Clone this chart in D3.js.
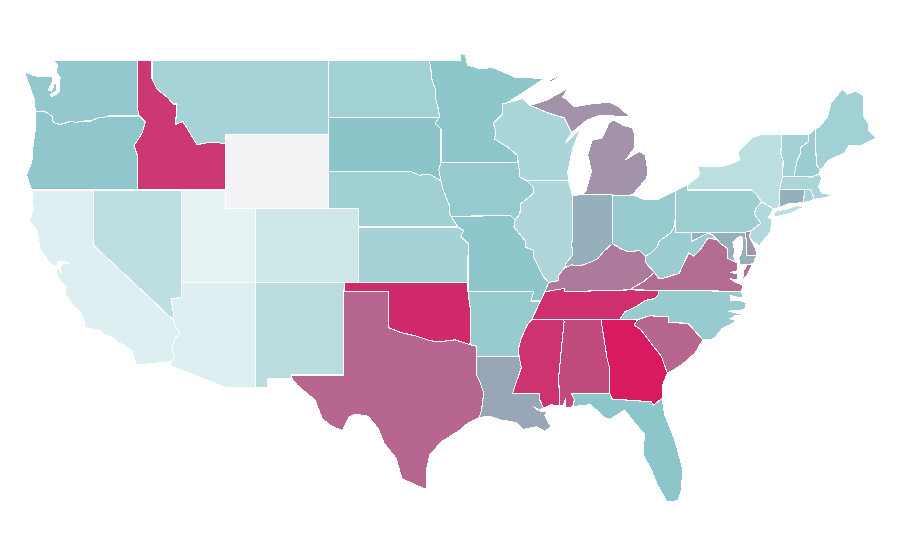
<!DOCTYPE html>
<html>
<head>
<meta charset="utf-8">
<title>US states choropleth</title>
<script src="https://cdnjs.cloudflare.com/ajax/libs/d3/7.8.5/d3.min.js"></script>
<style>
  body { margin: 0; background: #fff; }
  .state { stroke: #fff; stroke-width: 1.1; shape-rendering: crispEdges; stroke-linejoin: round; }
</style>
</head>
<body>
<svg id="map" width="900" height="560"></svg>
<script>
var stateNames  = ["WA","OR","ID","MT","WY","CA","NV","UT","CO","AZ","NM","ND","SD","NE","KS","OK","TX","MN","IA","MO","AR","LA","WI","IL","IN","MI","OH","KY","TN","MS","AL","GA","FL","SC","NC","VA","WV","PA","NY","VT","NH","ME","MA","CT","RI","NJ","DE","MD"];
var stateValues = [46,48,91.5,37,0,11,25.5,7,18,10.5,28,39,50,40,37.5,95.5,78,48.5,45,49,44,59,35,33,56.5,65,44,72,94,93,86,100,49.5,78,44,76,43,42,27,37.5,43,39,35,56.5,37.5,32,64,56.5];

// colour stops
var colorDomain = [0, 7, 50, 100];
var colorRange  = ["#f3f3f5", "#e5f3f4", "#8bc5ca", "#d81b60"];

// shared borders, lon/lat
var snake = [[-117.04,46.42],[-116.92,46],[-116.5,45.7],[-116.7,45.1],[-117.27,44.4],[-117.03,43.85],[-117.03,42]];
var columbia = [[-116.92,46],[-118.98,46],[-119.3,45.93],[-119.6,45.92],[-120.2,45.73],[-120.65,45.73],[-121.2,45.65],[-121.55,45.72],[-122,45.6],[-122.3,45.55],[-122.75,45.65],[-122.8,45.95],[-123.15,46.18],[-123.45,46.27],[-123.95,46.25]];
var bitterroot = [[-116.05,49],[-116.05,48],[-115.7,47.45],[-115,47],[-114.6,46.65],[-114.35,46.65],[-114.45,45.55],[-113.95,45.7],[-113.45,45.05],[-113,44.45],[-112.3,44.55],[-111.5,44.55],[-111.05,44.48]];
var redRiverN = [[-97.23,49],[-97.13,48.5],[-97.05,47.9],[-96.85,47.5],[-96.8,46.9],[-96.6,46.3],[-96.56,45.94]];
var mnSd = [[-96.56,45.94],[-96.85,45.6],[-96.45,45.3],[-96.45,43.5]];
var iaSd = [[-96.45,43.5],[-96.6,43.1],[-96.45,42.49]];
var neSd = [[-96.45,42.49],[-97.2,42.85],[-97.9,42.8],[-98.5,43]];
var iaNe = [[-96.45,42.49],[-96.3,42],[-96.1,41.6],[-95.9,41.2],[-95.85,40.7],[-95.77,40.58]];
var neMo = [[-95.77,40.58],[-95.31,40]];
var ksMo = [[-95.31,40],[-94.9,39.8],[-95.1,39.5],[-94.61,39.1],[-94.62,37],[-94.62,36.5]];
var okAr = [[-94.62,36.5],[-94.43,35.4],[-94.48,33.64]];
var redRiverS = [[-94.48,33.64],[-95.5,33.9],[-96.5,33.8],[-97.2,33.85],[-98.1,34.1],[-99.2,34.3],[-100,34.56]];
var azCa = [[-114.63,35],[-114.5,34.7],[-114.15,34.27],[-114.5,33.95],[-114.7,33.4],[-114.5,33],[-114.72,32.72]];
var azNv = [[-114.05,36.2],[-114.75,36.1],[-114.57,35.2],[-114.63,35]];
var mnWi = [[-92,46.7],[-92.3,46.66],[-92.29,46.1],[-92.9,45.6],[-92.75,45.2],[-92.8,44.75],[-91.9,44.3],[-91.25,43.85],[-91.22,43.5]];
var iaWi = [[-91.22,43.5],[-91.15,43.1],[-91.1,42.7],[-90.64,42.5]];
var iaIl = [[-90.64,42.5],[-90.15,42.1],[-90.2,41.8],[-91.05,41.25],[-91.1,40.7],[-91.42,40.38]];
var ilMo = [[-91.42,40.38],[-91.5,40],[-90.75,39.25],[-90.7,38.9],[-90.2,38.75],[-90.2,38.4],[-89.9,37.95],[-89.5,37.3],[-89.15,37]];
var wiMi = [[-90.4,46.57],[-89.1,46.14],[-88.1,45.9],[-87.6,45.1]];
var ohioIlKy = [[-89.15,37],[-88.5,37.1],[-88.45,37.4],[-88.05,37.8]];
var ohioInKy = [[-88.05,37.8],[-87.6,37.95],[-87,37.9],[-86.3,38.1],[-85.8,38.3],[-85.4,38.7],[-84.82,39.1]];
var ohioOhKy = [[-84.82,39.1],[-84.2,38.8],[-83.7,38.65],[-83,38.73],[-82.6,38.42]];
var ohioOhWv = [[-82.6,38.42],[-82.2,38.6],[-81.75,38.95],[-81.7,39.2],[-80.85,39.7],[-80.65,40],[-80.52,40.64]];
var kyWv = [[-82.6,38.42],[-82.6,38.1],[-81.97,37.54]];
var kyVa = [[-81.97,37.54],[-82.7,37.05],[-83.68,36.6]];
var moTn = [[-89.15,37],[-89.4,36.5]];
var tnAr = [[-89.4,36.5],[-89.7,36],[-90.3,35]];
var arMoBoot = [[-89.7,36],[-90.37,36],[-90.15,36.5],[-94.62,36.5]];
var arMs = [[-90.3,35],[-90.6,34.7],[-91,34],[-91.2,33.4],[-91.15,33]];
var laMs = [[-91.15,33],[-91,32.4],[-91.6,31],[-89.75,31],[-89.75,30.65],[-89.5,30.2]];
var laTx = [[-94.04,33],[-94.04,32],[-93.8,31.6],[-93.55,31],[-93.7,30.1],[-93.85,29.7]];
var tnNc = [[-81.68,36.59],[-81.7,36.35],[-82,36.12],[-82.6,36.03],[-83.1,35.75],[-84,35.4],[-84.32,35]];
var msAl = [[-88.2,35],[-88.1,34.9],[-88.47,31.9],[-88.4,30.35]];
var alGa = [[-85.6,35],[-85.18,32.87],[-85,32.3],[-85.05,31.55],[-85,31]];
var gaSc = [[-83.1,35],[-83.35,34.7],[-82.9,34.45],[-82,33.5],[-81.5,33],[-81.1,32.1]];
var gaFl = [[-81.45,30.75],[-82.05,30.36],[-82.2,30.55],[-84.86,30.7],[-85,31]];
var ncSc = [[-83.1,35],[-82.3,35.2],[-81.05,35.15],[-81.05,34.85],[-80.8,34.82],[-79.7,34.8],[-78.7,33.9]];
var vaWv = [[-77.72,39.32],[-78.35,39.4],[-78.87,38.76],[-79.3,38.42],[-79.65,38.6],[-80.3,37.5],[-81.25,37.25],[-81.68,37.2],[-81.97,37.54]];
var potomac = [[-76.33,38.05],[-77,38.3],[-77.05,38.7],[-77.05,38.85],[-77.5,39.1],[-77.72,39.32]];
var mdWv = [[-77.72,39.32],[-78.1,39.6],[-78.35,39.68],[-78.9,39.45],[-79.48,39.2],[-79.48,39.72]];
var delaware = [[-74.7,41.36],[-75.1,41],[-75.2,40.7],[-74.75,40.2],[-75.42,39.8]];
var paNy = [[-79.76,42.27],[-79.76,42],[-75.35,42],[-75.05,41.75],[-74.7,41.36]];
var vtNh = [[-71.5,45.01],[-71.55,44.6],[-72.05,44.3],[-72.05,44],[-72.3,43.6],[-72.45,43],[-72.46,42.73]];
var nyVt = [[-73.35,45],[-73.4,44],[-73.25,43.6],[-73.27,42.75]];
var meNh = [[-71.08,45.3],[-71,43.5],[-70.97,43.35],[-70.7,43.07]];
var nyMa = [[-73.27,42.75],[-73.5,42.05]];
var maRi = [[-71.8,42.02],[-71.38,42.02],[-71.2,41.67],[-71.12,41.5]];
var ctRi = [[-71.8,42.02],[-71.86,41.32]];
var nyCt = [[-73.5,42.05],[-73.49,41.2],[-73.65,41]];

function rev(a) { return a.slice().reverse(); }
function ring() { return [].concat.apply([], arguments); }

var stateRings = {
  WA: [ring([[-122.76,49],[-117.03,49]], snake.slice(0,2), columbia, [[-124.05,46.7],[-124.05,46.95],[-124.3,47.5],[-124.7,48.38],[-124,48.17],[-123.2,48.12],[-122.75,48.12],[-122.85,47.75],[-123.1,47.4],[-122.85,47.35],[-122.65,47.75],[-122.5,47.75],[-122.55,47.35],[-122.95,47.15],[-122.85,47.05],[-122.45,47.2],[-122.3,47.4],[-122.35,47.95],[-122.25,48.05],[-122.55,48.4],[-122.45,48.75]])],
  OR: [ring([[-124.2,42],[-124.4,42.4],[-124.55,42.84],[-124.2,43.5],[-124.1,44.5],[-123.95,45.3]], rev(columbia), snake.slice(1))],
  ID: [ring([[-117.03,49]], bitterroot, [[-111.05,42]], rev(snake))],
  MT: [ring([[-116.05,49],[-104.05,49],[-104.05,45],[-111.05,45],[-111.05,44.48]], rev(bitterroot))],
  WY: [[[-111.05,45],[-104.05,45],[-104.05,41],[-111.05,41]]],
  CA: [ring([[-124.2,42],[-120,42],[-120,39]], azCa, [[-117.12,32.53],[-117.4,33.3],[-117.9,33.6],[-118.35,33.75],[-118.7,34.03],[-119.2,34.15],[-119.6,34.42],[-120.15,34.5],[-120.6,34.55],[-120.65,34.9],[-120.8,35.25],[-121.3,35.7],[-121.95,36.4],[-121.85,36.75],[-122.4,37.25],[-122.5,37.55],[-122.5,37.75],[-122.4,37.75],[-122.15,37.45],[-122.3,37.85],[-122.1,38],[-121.65,38.05],[-122.15,38.15],[-122.45,38.1],[-122.5,37.85],[-122.95,38],[-123.65,38.85],[-123.83,39.8],[-124.35,40.3],[-124.1,41]])],
  NV: [ring([[-120,42],[-114.05,42]], azNv, [[-120,39]])],
  UT: [[[-114.05,42],[-111.05,42],[-111.05,41],[-109.05,41],[-109.05,37],[-114.05,37]]],
  CO: [[[-109.05,41],[-102.05,41],[-102.05,37],[-109.05,37]]],
  AZ: [ring([[-114.05,37],[-109.05,37],[-109.05,31.33],[-111.07,31.33],[-114.8,32.5]], rev(azCa), rev(azNv))],
  NM: [[[-109.05,37],[-103,37],[-103.06,32],[-106.62,32],[-106.53,31.78],[-108.2,31.78],[-108.2,31.33],[-109.05,31.33]]],
  ND: [ring([[-104.05,49]], redRiverN, [[-104.05,45.94]])],
  SD: [ring([[-104.05,45.94]], mnSd, iaSd, neSd, [[-104.05,43]])],
  NE: [ring([[-104.05,43]], rev(neSd), iaNe, neMo, [[-102.05,40],[-102.05,41],[-104.05,41]])],
  KS: [ring([[-102.05,40]], ksMo.slice(0,5), [[-102.05,37]])],
  OK: [ring([[-103,37],[-94.62,37],[-94.62,36.5]], okAr, redRiverS, [[-100,36.5],[-103.03,36.5]])],
  TX: [ring([[-106.62,32],[-103.06,32],[-103.03,36.5],[-100,36.5]], rev(redRiverS), [[-94.04,33.55]], laTx, [[-94.7,29.35],[-95.2,29],[-96.4,28.4],[-97.2,27.7],[-97.4,27],[-97.4,25.9],[-97.6,25.85],[-99.1,26.4],[-99.5,27.5],[-100.3,28.3],[-100.7,29.1],[-101.4,29.77],[-102.3,29.88],[-102.7,29.7],[-103.15,28.98],[-104,29.3],[-104.5,29.65],[-105,30.65],[-106.2,31.45],[-106.53,31.78]])],
  MN: [ring([[-97.23,49],[-95.15,49],[-95.15,49.38],[-94.8,49.3],[-94.65,48.75],[-93.8,48.55],[-92.95,48.62],[-92,48.3],[-91.4,48.07],[-90.75,48.1],[-89.5,48],[-90.8,47.3]], mnWi, [[-96.45,43.5]], rev(mnSd), rev(redRiverN))],
  IA: [ring([[-96.45,43.5],[-91.22,43.5]], iaWi.slice(1), iaIl, [[-91.73,40.61]], rev(iaNe), rev(iaSd))],
  MO: [ring([[-95.77,40.58],[-91.73,40.61]], ilMo, moTn, [[-89.7,36]], arMoBoot, rev(ksMo), rev(neMo))],
  AR: [ring(rev(arMoBoot), arMs, [[-94.04,33],[-94.04,33.55]], rev(okAr))],
  LA: [ring([[-94.04,33]], laMs, [[-89.9,30.1],[-90.2,30.3],[-89.7,30.05],[-89.3,30],[-89.4,29.8],[-89,29.2],[-89.4,28.95],[-90,29.2],[-90.9,29.05],[-91.3,29.4],[-91.8,29.5],[-92.3,29.55],[-93.2,29.77]], rev(laTx))],
  WI: [ring([[-92,46.7],[-90.9,46.95]], wiMi, [[-88,44.55],[-87,45.3],[-87.5,44.3],[-87.85,43],[-87.8,42.49]], rev(iaIl.slice(0,1)), rev(iaWi), rev(mnWi))],
  IL: [ring([[-90.64,42.5],[-87.8,42.49],[-87.53,41.7],[-87.53,39.35],[-87.6,39.1],[-87.5,38.5],[-88,38],[-88.05,37.8]], rev(ohioIlKy), rev(ilMo), rev(iaIl))],
  IN: [ring([[-87.53,41.7],[-86.82,41.76],[-84.8,41.76]], rev(ohioInKy), [[-88,38],[-87.5,38.5],[-87.6,39.1],[-87.53,39.35]])],
  MI: [
    ring(wiMi, [[-87.2,45.35],[-86.6,45.75],[-86,45.95],[-85.5,46.05],[-84.9,46.05],[-84.6,45.95],[-83.7,46],[-84.3,46.45],[-85,46.75],[-86.1,46.67],[-87.4,46.5],[-87.9,46.9],[-88.2,47],[-87.9,47.47],[-88.5,47.2],[-89.3,46.85]]),
    [[-86.82,41.76],[-84.8,41.76],[-84.8,41.7],[-83.45,41.73],[-83.1,42.1],[-82.5,42.6],[-82.42,43],[-82.6,43.9],[-83,44.07],[-83.4,43.9],[-83.9,43.65],[-83.3,44.3],[-83.3,44.9],[-83.45,45.35],[-84.1,45.5],[-84.75,45.78],[-85.1,45.6],[-85.2,45.35],[-85.55,44.8],[-86.2,44.7],[-86.5,43.9],[-86.25,43],[-86.6,42]],
    [[-89.15,47.9],[-88.6,48.15],[-88.5,48.08],[-89,47.85]]
  ],
  OH: [ring([[-84.8,41.7],[-83.45,41.73],[-82.7,41.5],[-81.7,41.5],[-80.52,41.98]], rev(ohioOhWv), rev(ohioOhKy))],
  KY: [ring([[-89.4,36.5]], rev(moTn), ohioIlKy, ohioInKy, ohioOhKy, kyWv, kyVa, [[-88.07,36.5],[-88.07,36.68]])],
  TN: [ring(rev(tnAr), [[-88.07,36.68],[-88.07,36.5],[-83.68,36.6]], tnNc, [[-90.3,35]])],
  MS: [ring([[-90.3,35]], msAl, [[-89,30.38]], rev(laMs), rev(arMs))],
  AL: [ring([[-88.2,35]], alGa, [[-87.6,31],[-87.4,30.65],[-87.52,30.28],[-88,30.23],[-88,30.7],[-88.15,30.35]], rev(msAl))],
  GA: [ring([[-85.6,35]], gaSc, [[-81.4,31.5]], gaFl, rev(alGa))],
  FL: [ring([[-87.6,31],[-85,31]], rev(gaFl), [[-81.3,29.9],[-80.6,28.5],[-80.05,26.9],[-80.15,25.75],[-80.4,25.2],[-81.1,25.12],[-81.8,26.1],[-82.2,26.9],[-82.75,27.7],[-82.65,28.8],[-83.4,29.5],[-84,30.1],[-85,29.6],[-85.4,29.7],[-86.3,30.4],[-87.52,30.28],[-87.4,30.65]])],
  SC: [ring(ncSc, [[-79.2,33.2],[-79.9,32.7],[-80.6,32.3]], rev(gaSc))],
  NC: [ring([[-84.32,35]], ncSc, [[-77.95,33.95],[-77.4,34.5],[-76.75,34.75],[-76.45,34.95],[-76.85,35.05],[-76.5,35.2],[-75.95,35.25],[-76.95,35.45],[-76.1,35.5],[-75.8,35.6],[-75.75,35.9],[-76.1,36],[-76.8,36.05],[-76.85,36.3],[-76,36.15],[-76.05,36.52]], tnNc)],
  VA: [
    ring([[-83.68,36.6],[-76.05,36.52],[-76,36.9],[-76.35,36.95],[-76.85,37.2],[-76.35,37.15],[-76.3,37.45],[-76.8,37.55],[-76.3,37.65]], potomac, vaWv, kyVa),
    [[-75.98,37.15],[-75.95,37.6],[-75.7,37.95],[-75.3,38],[-75.7,37.4]]
  ],
  WV: [ring([[-80.52,40.64],[-80.52,39.72]], rev(mdWv), vaWv, rev(kyWv), ohioOhWv)],
  PA: [ring([[-80.52,41.98]], paNy, delaware, [[-75.79,39.72],[-80.52,39.72]])],
  NY: [
    ring([[-79.76,42.27],[-79.05,42.7],[-78.9,42.9],[-79.05,43.27],[-77.5,43.25],[-76.5,43.5],[-76.2,43.6],[-76.3,44.1],[-75.3,44.85],[-74.7,45]], nyVt, nyMa, nyCt, [[-73.9,40.98]], rev(paNy)),
    [[-74,40.6],[-73.75,40.85],[-73,40.97],[-72.3,41.15],[-71.87,41.07],[-72.7,40.75],[-73.6,40.58]]
  ],
  VT: [ring(nyVt, rev(vtNh))],
  NH: [ring(vtNh, [[-71.3,42.7],[-70.82,42.87]], rev(meNh))],
  ME: [ring(meNh.slice(0,1), [[-70.8,45.4],[-70.25,45.95],[-70,46.7],[-69.23,47.46],[-68.9,47.18],[-68.3,47.36],[-67.8,47.07],[-67.78,45.95],[-67.45,45.6],[-67.45,45.2],[-66.95,44.8],[-68,44.4],[-68.8,44.4],[-69.1,44],[-70.2,43.6]], rev(meNh))],
  MA: [ring(nyMa, maRi, [[-70.65,41.55],[-69.95,41.68],[-70.2,41.78],[-70.65,41.85],[-70.85,42.2],[-70.6,42.65],[-70.82,42.87],[-71.3,42.7],[-72.46,42.73]])],
  CT: [ring(nyCt.slice(0,1), maRi.slice(0,1), ctRi.slice(1), [[-72.9,41.25]], rev(nyCt))],
  RI: [ring(maRi, [[-71.5,41.37],[-71.86,41.32]])],
  NJ: [ring(delaware.slice(0,1), [[-73.9,40.98],[-74.25,40.5],[-74,40.45],[-74.1,39.75],[-74.9,38.95],[-75.55,39.45],[-75.42,39.8]], rev(delaware))],
  DE: [[[-75.79,39.72],[-75.42,39.8],[-75.55,39.5],[-75.1,38.8],[-75.05,38.45],[-75.7,38.46]]],
  MD: [ring([[-79.48,39.72],[-75.79,39.72],[-75.7,38.46],[-75.05,38.45],[-75.25,38.03],[-75.65,37.95],[-76.2,37.95],[-76.25,38.3],[-76.05,38.65],[-76,39.2],[-76.05,39.5],[-76.4,39.4],[-76.65,39.15],[-76.55,38.75],[-76.6,38.35]], potomac, mdWv)]
};

var width = 900, height = 560;

var xScale = d3.scaleLinear().domain([-124.7, -66.95]).range([24.4, 876]);
var yScale = d3.scaleLinear().domain([49, 25.1]).range([60.5, 502.6]);
var color = d3.scaleLinear().domain(colorDomain).range(colorRange);

var stretch = d3.geoTransform({
  point: function(lon, lat) { this.stream.point(xScale(lon), yScale(lat)); }
});
var path = d3.geoPath(stretch);

var features = stateNames.map(function(name, i) {
  return {
    type: "Feature",
    properties: { name: name, value: stateValues[i] },
    geometry: {
      type: "MultiPolygon",
      coordinates: stateRings[name].map(function(r) { return [r.concat([r[0]])]; })
    }
  };
});

d3.select("#map").selectAll("path")
  .data(features)
  .enter()
  .append("path")
  .attr("class", "state")
  .attr("d", path)
  .attr("fill", function(d) { return color(d.properties.value); });
</script>
</body>
</html>
